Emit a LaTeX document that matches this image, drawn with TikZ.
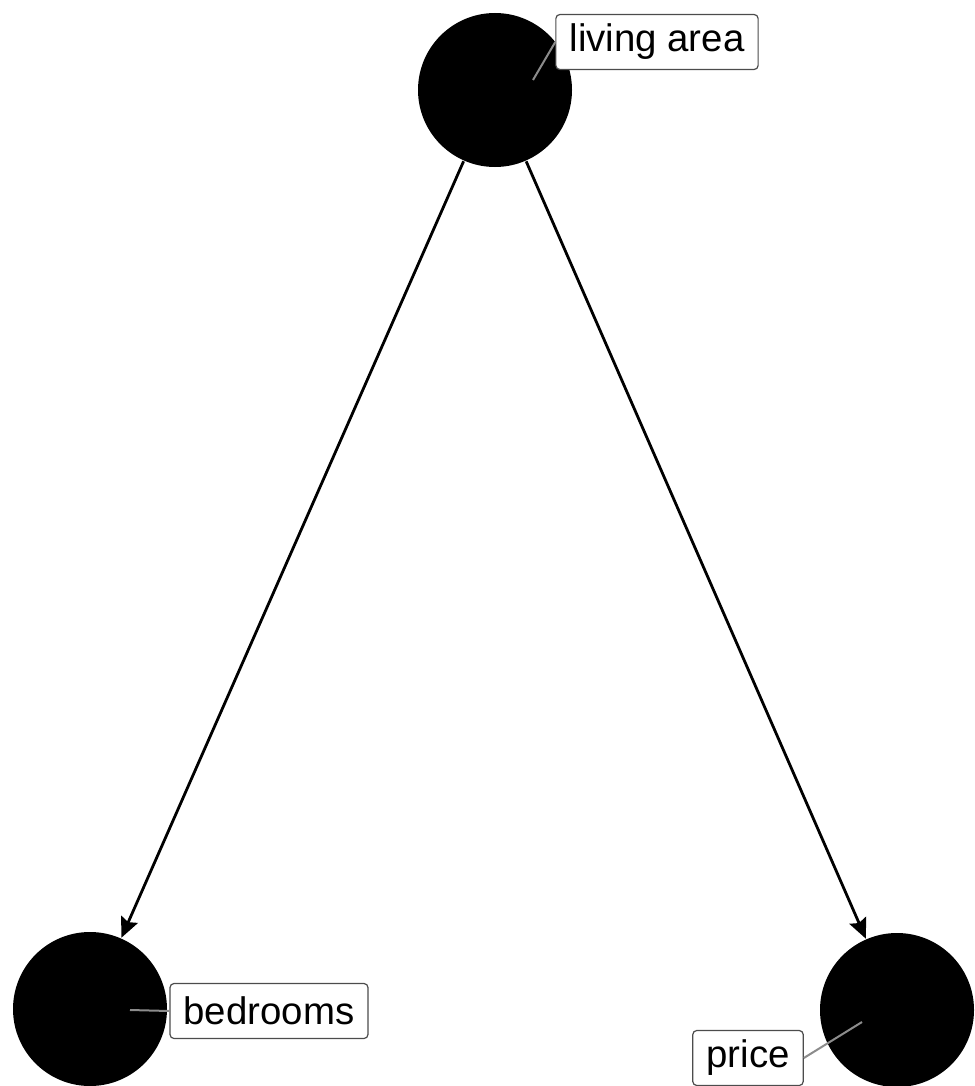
\documentclass[tikz,border=0pt]{standalone}
\usepackage{fontspec}
\setmainfont{Liberation Sans}
\usetikzlibrary{arrows.meta, positioning}
\definecolor{cgrey}{HTML}{6B6B6B}
\definecolor{cline}{HTML}{8C8C8C}
\tikzset{
  every picture/.style={line width=0.9pt},
  arrow/.style={-{Stealth[length=10pt, width=9pt, inset=1.5pt]}, draw=black, line width=1.4pt},
}

\begin{document}
\begin{tikzpicture}[
    x=0.5pt, y=-0.5pt,
    var/.style={circle, fill=black, draw=none, minimum size=77pt, inner sep=0pt},
    lab/.style={draw=black!70, fill=white, rounded corners=2pt, line width=0.6pt,
      font=\fontsize{19.2}{22}\selectfont, inner xsep=6.8pt, minimum height=27.5pt},
    pin/.style={draw=cline, line width=1pt},
  ]
  \useasboundingbox (0,0) rectangle (974,1086);

  % variables
  \node[var] (living) at (495,90)  {};
  \node[var] (bed)    at (90,1009) {};
  \node[var] (price)  at (897,1010) {};

  \draw[arrow] (living) -- (bed);
  \draw[arrow] (living) -- (price);

  % labels
  \node[lab] (livinglab) at (657,42)   {living area};
  \node[lab] (bedlab)    at (269,1011) {bedrooms};
  \node[lab] (pricelab)  at (748,1058) {price};

  \coordinate (livingpin) at (533,80);
  \coordinate (bedpin)    at (130,1010);
  \coordinate (pricepin)  at (862,1022);
  \draw[pin] (livingpin) -- (livinglab.west);
  \draw[pin] (bedpin) -- (bedlab.west);
  \draw[pin] (pricepin) -- (pricelab.east);
\end{tikzpicture}
\end{document}
